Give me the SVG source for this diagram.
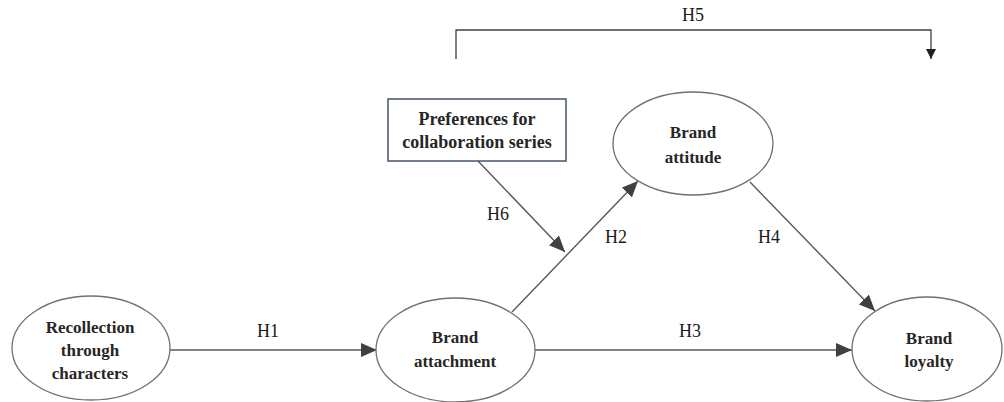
<svg xmlns="http://www.w3.org/2000/svg" width="1004" height="402" viewBox="0 0 1004 402">
<defs>
<marker id="arr" markerUnits="userSpaceOnUse" markerWidth="16" markerHeight="14" viewBox="0 0 16 14" refX="16" refY="7" orient="auto">
<path d="M0,0 L16,7 L0,14 z" fill="#404040"/>
</marker>
<marker id="arrs" markerUnits="userSpaceOnUse" markerWidth="10" markerHeight="10" viewBox="0 0 10 10" refX="10" refY="5" orient="auto">
<path d="M0,0 L10,5 L0,10 z" fill="#202020"/>
</marker>
</defs>
<style>
.node{fill:#fff;stroke:#707070;stroke-width:1.3}
.box{fill:#fff;stroke:#44546a;stroke-width:1.5}
.t{font-family:"Liberation Serif",serif;font-weight:bold;font-size:17px;fill:#262626;text-anchor:middle}
.tb{font-family:"Liberation Serif",serif;font-weight:bold;font-size:18px;fill:#262626;text-anchor:middle}
.lbl{font-family:"Liberation Serif",serif;font-size:18px;fill:#1a1a1a;text-anchor:middle}
.c{fill:none;stroke:#595959;stroke-width:1.4}
.h5{fill:none;stroke:#404040;stroke-width:1.3}
</style>
<g id="connectors">
<line class="c" x1="170" y1="350" x2="377" y2="350" marker-end="url(#arr)"/>
<line class="c" x1="535" y1="350" x2="852" y2="350" marker-end="url(#arr)"/>
<line class="c" x1="512" y1="312" x2="638" y2="181" marker-end="url(#arr)"/>
<line class="c" x1="750" y1="182" x2="875" y2="311" marker-end="url(#arr)"/>
<line class="c" x1="478" y1="161" x2="565" y2="252" marker-end="url(#arr)"/>
<path class="h5" d="M456,59 V30 H931 V59" marker-end="url(#arrs)"/>
<text class="lbl" x="268" y="337">H1</text>
<text class="lbl" x="690" y="337">H3</text>
<text class="lbl" x="616" y="243">H2</text>
<text class="lbl" x="769" y="243">H4</text>
<text class="lbl" x="498" y="220">H6</text>
<text class="lbl" x="693" y="21">H5</text>
</g>
<g id="recollection">
<ellipse class="node" cx="91" cy="348" rx="79" ry="52"/>
<text class="t" x="90" y="333">Recollection</text>
<text class="t" x="90" y="356">through</text>
<text class="t" x="90" y="379">characters</text>
</g>
<g id="attachment">
<ellipse class="node" cx="455.5" cy="350" rx="79.5" ry="52"/>
<text class="t" x="455" y="343">Brand</text>
<text class="t" x="455" y="367">attachment</text>
</g>
<g id="attitude">
<ellipse class="node" cx="693" cy="143.5" rx="80" ry="51.5"/>
<text class="t" x="693" y="138">Brand</text>
<text class="t" x="693" y="163">attitude</text>
</g>
<g id="loyalty">
<ellipse class="node" cx="927" cy="349" rx="75" ry="52"/>
<text class="t" x="929" y="344">Brand</text>
<text class="t" x="929" y="367">loyalty</text>
</g>
<g id="preferences">
<rect class="box" x="388" y="99" width="178" height="62"/>
<text class="tb" x="477" y="125">Preferences for</text>
<text class="tb" x="477" y="148">collaboration series</text>
</g>
</svg>
